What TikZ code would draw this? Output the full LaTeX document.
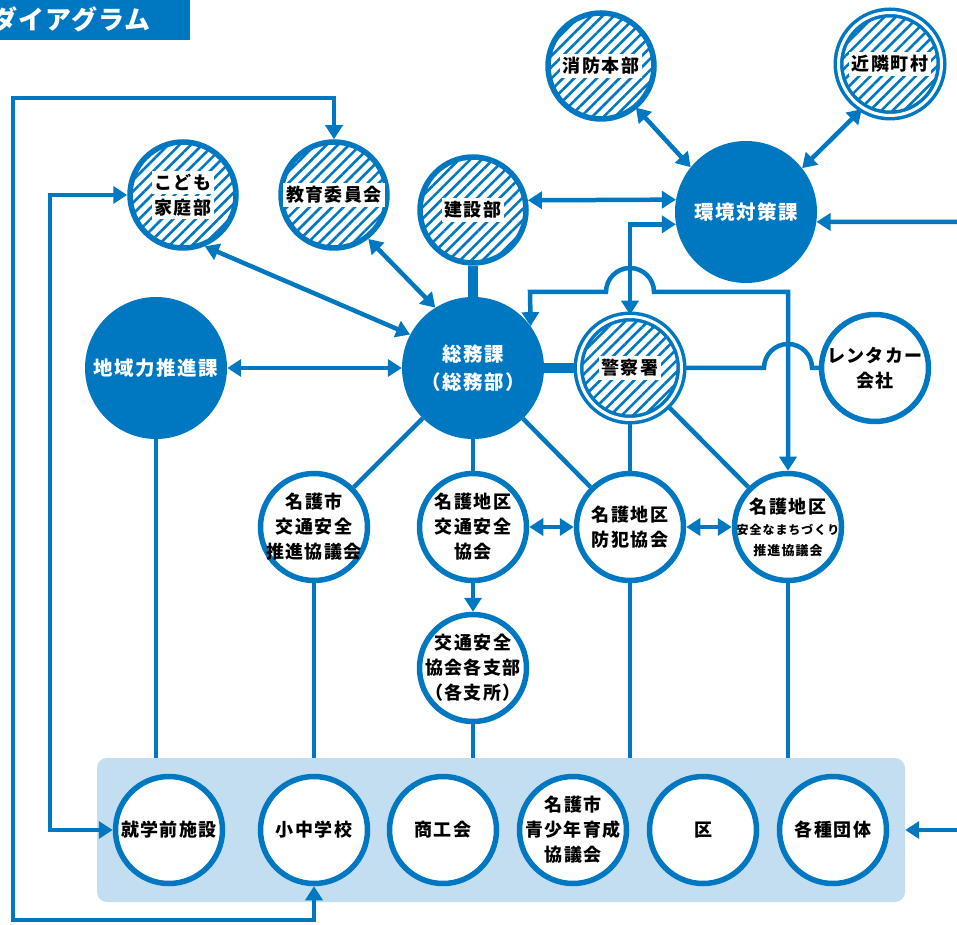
\documentclass[tikz,border=0pt]{standalone}
\usepackage{fontspec}
\setmainfont{Noto Sans CJK JP}[LetterSpace=8]
\usetikzlibrary{arrows.meta,patterns.meta}
\definecolor{brand}{HTML}{0078C1}
\definecolor{bandblue}{HTML}{C2DEF0}
\newcommand\hl[1]{\colorbox{white}{#1}}

\begin{document}
\begin{tikzpicture}[x=1pt, y=1pt, >={Triangle[length=14pt,width=17pt]},
  every node/.style={font=\bfseries\fontsize{18}{25}\selectfont, align=center},
  txt/.style={inner sep=0pt, align=center, font=\bfseries\fontsize{18}{25}\selectfont},
  whitetxt/.style={txt, text=white, font=\bfseries\fontsize{19.5}{28}\selectfont},
  solidc/.style={circle, fill=brand, minimum size=142pt, inner sep=0pt},
  wcirc/.style={circle, draw=brand, line width=5.5pt, fill=white, minimum size=107pt, inner sep=0pt},
  hatchc/.style={circle, draw=brand, line width=5.5pt, minimum size=106pt, inner sep=0pt,
    pattern={Lines[angle=45,distance=8pt,line width=2.6pt]}, pattern color=brand},
  dhatchc/.style={hatchc, line width=3.5pt, double=white, double distance=3pt, minimum size=103pt},
  link/.style={draw=brand, line width=4.5pt},
  bar/.style={draw=brand, line width=10pt}]
\useasboundingbox (0,0) rectangle (957,924);

% title
\node[fill=brand, minimum width=190pt, minimum height=40pt, anchor=north west, inner sep=0pt] (titlebar) at (0,924) {};
\node[anchor=west, inner sep=0pt, text=white, font=\bfseries\fontsize{26}{26}\selectfont\addfontfeatures{LetterSpace=4}] (titletext) at (-9,905) {ダイアグラム};

% upper circles
\node[hatchc, label={[txt]center:\hl{消防本部}}] (shobo) at (601,858) {};
\node[dhatchc, label={[txt]center:\hl{近隣町村}}] (kinrin) at (890,860) {};
\node[hatchc, label={[txt]center:\hl{こども}\\\hl{家庭部}}] (kodomo) at (183,729) {};
\node[hatchc, label={[txt]center:\hl{教育委員会}}] (kyoiku) at (334,729) {};
\node[hatchc, label={[txt]center:\hl{建設部}}] (kensetsu) at (473,714) {};
\node[solidc, label={[whitetxt]center:環境対策課}] (kankyo) at (746,712) {};

% middle row
\node[solidc, label={[whitetxt]center:地域力推進課}] (chiiki) at (156,556) {};
\node[solidc, label={[whitetxt]center:総務課\\（総務部）}] (somu) at (473,556) {};
\node[dhatchc, label={[txt]center:\hl{警察署}}] (keisatsu) at (630,556) {};
\node[wcirc, label={[txt]center:レンタカー\\会社}] (rental) at (875,556) {};

% councils
\node[wcirc, label={[txt]center:名護市\\交通安全\\推進協議会}] (kotsu1) at (314,397) {};
\node[wcirc, label={[txt]center:名護地区\\交通安全\\協会}] (kotsu2) at (473,397) {};
\node[wcirc, label={[txt]center:名護地区\\防犯協会}] (bohan) at (630,397) {};
\node[wcirc, label={[txt, font=\bfseries\fontsize{18}{21}\selectfont]center:名護地区\\{\fontsize{12}{21}\selectfont 安全なまちづくり}\\{\fontsize{13}{21}\selectfont 推進協議会}}] (machi) at (788,397) {};
\node[wcirc, label={[txt]center:交通安全\\協会各支部\\（各支所）}] (shibu) at (473,256) {};

% band of groups
\node[fill=bandblue, rounded corners=10pt, minimum width=808pt, minimum height=144pt, inner sep=0pt] (band) at (501,94) {};
\node[wcirc, label={[txt]center:就学前施設}] (shugaku) at (169,94) {};
\node[wcirc, label={[txt]center:小中学校}] (shochu) at (314,94) {};
\node[wcirc, label={[txt]center:商工会}] (shoko) at (443,94) {};
\node[wcirc, label={[txt]center:名護市\\青少年育成\\協議会}] (seishonen) at (573,94) {};
\node[wcirc, label={[txt]center:区}] (ku) at (703,94) {};
\node[wcirc, label={[txt]center:各種団体}] (kakushu) at (833,94) {};

\coordinate (eastin) at (957,702);
\coordinate (bandin) at (957,94);

% links
\draw[bar] (kensetsu) -- (somu);
\draw[bar] (somu) -- (keisatsu);
\draw[link,<->] (kensetsu.10) -- (kankyo.170);
\draw[link,<->] (keisatsu.north) |- (kankyo.190);
\draw[link,<->] (machi.north) |- (654,632) arc[start angle=0,end angle=180,radius=24] -- (530,632) -- (somu.36);
\draw[link] (keisatsu.east) -- (764,556) arc[start angle=180,end angle=0,radius=24] -- (rental.west);
\draw[link,<->] (shobo.-50) -- (kankyo.141);
\draw[link,<->] (kinrin.-122) -- (kankyo.38);
\draw[link,->] (eastin) -- (kankyo.-8);
\draw[link,<->] (chiiki) -- (somu);
\draw[link,<->] (kodomo.-67) -- (somu.152);
\draw[link,<->] (kyoiku.-52) -- (somu.122);
\draw[link] (somu) -- (kotsu1);
\draw[link] (somu) -- (kotsu2);
\draw[link] (somu) -- (bohan);
\draw[link] (keisatsu) -- (bohan);
\draw[link] (keisatsu) -- (machi);
\draw[link,<->] (kotsu2) -- (bohan);
\draw[link,<->] (bohan) -- (machi);
\draw[link,->] (kotsu2) -- (shibu);
\draw[link] (chiiki.south) -- (chiiki.south |- band.north);
\draw[link] (kotsu1.south) -- (kotsu1.south |- band.north);
\draw[link] (shibu.south) -- (shibu.south |- band.north);
\draw[link] (bohan.south) -- (bohan.south |- band.north);
\draw[link] (machi.south) -- (machi.south |- band.north);
\draw[link,->] (bandin) -- (band.east);
\draw[link,<->] (shochu.south) |- (13,4) |- (334,826) -- (kyoiku.north);
\draw[link,<->] (shugaku.west) -| (50,729) -- (kodomo.west);
\end{tikzpicture}
\end{document}
